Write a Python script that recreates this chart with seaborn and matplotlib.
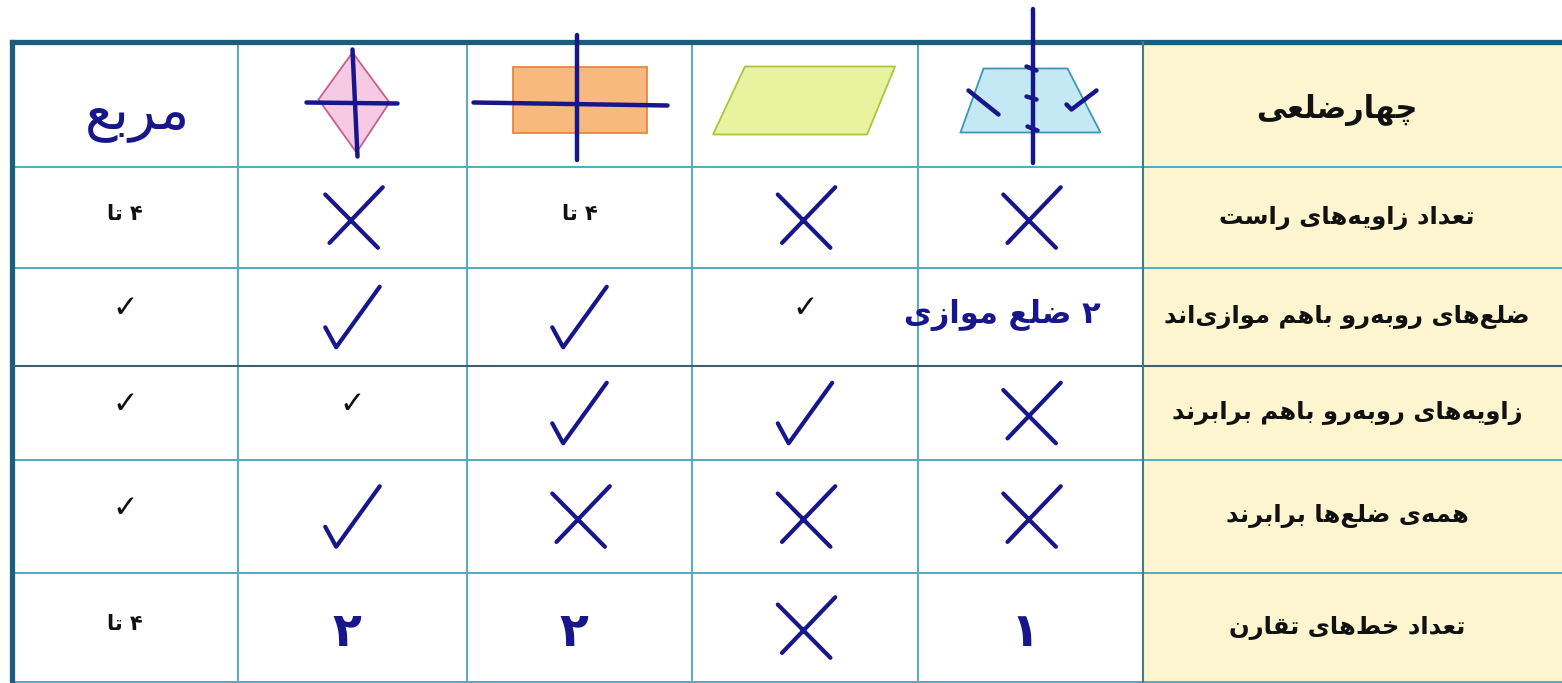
import numpy as np
import pandas as pd
import matplotlib
matplotlib.use("Agg")
import matplotlib.pyplot as plt
from matplotlib.colors import ListedColormap
from matplotlib.path import Path
from matplotlib.patches import Polygon
import seaborn as sns

## Dados da tabela (ordem da direita para a esquerda, como no original)

header_label = "چهارضلعی"
shape_names = ["ذوزنقه", "متوازی‌الاضلاع", "مستطیل", "لوزی", "مربع"]
row_labels = [
    "تعداد زاویه‌های راست",
    "ضلع‌های روبه‌رو باهم موازی‌اند",
    "زاویه‌های روبه‌رو باهم برابرند",
    "همه‌ی ضلع‌ها برابرند",
    "تعداد خط‌های تقارن",
]
# x = no, v = yes
right_angles = ["x", "x", "۴ تا", "x", "۴ تا"]
parallel_sides = ["۲ ضلع موازی", "v", "v", "v", "v"]
equal_angles = ["x", "v", "v", "v", "v"]
equal_sides = ["x", "x", "x", "v", "v"]
symmetry_lines = ["۱", "x", "۲", "۲", "۴ تا"]
# 1 = handwritten answer, 0 = printed in the book
right_angles_hand = [1, 1, 0, 1, 0]
parallel_sides_hand = [1, 0, 1, 1, 0]
equal_angles_hand = [1, 1, 1, 0, 0]
equal_sides_hand = [1, 1, 1, 1, 0]
symmetry_lines_hand = [1, 1, 1, 1, 0]

## Layout (pixels)
col_edges_px = [12, 238, 467, 692, 918, 1143, 1575]
row_edges_px = [42, 167, 268, 366, 460, 573, 682]
W, H = 1562, 683
ink = "#17168a"
grid_color = "#55adc3"
border_color = "#1d5d7c"

## Persian shaping (presentation forms) - matplotlib does no shaping itself
forms = {
    "ا": "\ufe8d\ufe8e", "ب": "\ufe8f\ufe90\ufe91\ufe92", "ت": "\ufe95\ufe96\ufe97\ufe98",
    "خ": "\ufea5\ufea6\ufea7\ufea8", "د": "\ufea9\ufeaa", "ر": "\ufead\ufeae",
    "ز": "\ufeaf\ufeb0", "س": "\ufeb1\ufeb2\ufeb3\ufeb4", "ض": "\ufebd\ufebe\ufebf\ufec0",
    "ط": "\ufec1\ufec2\ufec3\ufec4", "ع": "\ufec9\ufeca\ufecb\ufecc", "ق": "\ufed5\ufed6\ufed7\ufed8",
    "ل": "\ufedd\ufede\ufedf\ufee0", "م": "\ufee1\ufee2\ufee3\ufee4", "ن": "\ufee5\ufee6\ufee7\ufee8",
    "ه": "\ufee9\ufeea\ufeeb\ufeec", "و": "\ufeed\ufeee", "ی": "\ufbfc\ufbfd\ufbfe\ufbff",
    "چ": "\ufb7a\ufb7b\ufb7c\ufb7d",
}


def fa(s):
    out = []
    for i, ch in enumerate(s):
        f = forms.get(ch)
        if f is None:
            out.append(ch)
            continue
        prev = s[i - 1] if i > 0 else ""
        nxt = s[i + 1] if i < len(s) - 1 else ""
        jp = prev in forms and len(forms[prev]) == 4
        jn = len(f) == 4 and nxt in forms
        out.append(f[3] if (jp and jn) else f[1] if jp else f[2] if jn else f[0])
    return "".join(c for c in out if c != "\u200c")[::-1]


sns.set_theme(style="white")
plt.rcParams["font.family"] = ["DejaVu Sans"]

n_rows = 1 + len(row_labels)
n_cols = 1 + len(shape_names)

fig = plt.figure(figsize=(W / 100, H / 100), dpi=100)
ax = fig.add_axes([0, 0, 1, 1])

# fundo das celulas: coluna dos rotulos em creme
bg = np.zeros((n_rows, n_cols))
bg[:, -1] = 1
sns.heatmap(bg, cmap=ListedColormap(["#ffffff", "#fcf5cf"]), cbar=False,
            linewidths=1.4, linecolor=grid_color, xticklabels=False,
            yticklabels=False, ax=ax)

# escalas por partes: indice da celula -> pixel
xi = np.arange(-1, n_cols + 2)
xp = np.r_[col_edges_px[0] - 226, col_edges_px, col_edges_px[-1] + 400]
yi = np.arange(-1, n_rows + 2)
yp = np.r_[row_edges_px[0] - 126, row_edges_px, row_edges_px[-1] + 110]
fx = lambda v: np.interp(v, xi, xp)
ix = lambda p: np.interp(p, xp, xi)
fy = lambda v: np.interp(v, yi, yp)
iy = lambda p: np.interp(p, yp, yi)
ax.set_xscale("function", functions=(fx, ix))
ax.set_yscale("function", functions=(fy, iy))


def at(col, row, dx=0.0, dy=0.0):
    return ix(fx(col + 0.5) + dx), iy(fy(row + 0.5) + dy)


# bordas grossas e linhas escuras
ax.plot([0, n_cols], [0, 0], color=border_color, lw=3.8, zorder=3, solid_capstyle="projecting")
ax.plot([0, 0], [0, n_rows], color=border_color, lw=3.8, zorder=3, solid_capstyle="projecting")
ax.plot([0, n_cols], [3, 3], color="#3d5f6e", lw=1.5, zorder=3)
ax.plot([n_cols - 1, n_cols - 1], [0, n_rows], color="#46788a", lw=1.5, zorder=3)

## Cabecalho: figuras
shape_outlines = {
    "ذوزنقه": ([(-47, -36), (37, -36), (70, 28), (-70, 28)], "#c4e8f4", "#3f97b3"),
    "متوازی‌الاضلاع": ([(-60, -38), (90, -38), (62, 30), (-92, 30)], "#e8f29f", "#a9c63c"),
    "مستطیل": ([(-67, -38), (67, -38), (67, 28), (-67, 28)], "#f8b97f", "#e08944"),
    "لوزی": ([(0, -52), (37, -2), (4, 48), (-34, -5)], "#f6cae2", "#c8608e"),
}
shape_strokes = {
    "ذوزنقه": [[(2, -96), (2, 58)],
               [(-4, -38), (6, -34)], [(-4, -8), (6, -5)], [(-3, 22), (7, 26)],
               [(-62, -14), (-32, 10)],
               [(36, 0), (41, 5), (66, -14)]],
    "مستطیل": [[(-3, -70), (-3, 55)], [(-106, -2), (88, 1)]],
    "لوزی": [[(0, -55), (5, 52)], [(-46, -2), (45, -1)]],
}
for j, name in enumerate(shape_names):
    col = n_cols - 2 - j
    if name in shape_outlines:
        verts, face, edge = shape_outlines[name]
        pts = [at(col, 0, dx, dy) for dx, dy in verts]
        ax.add_patch(Polygon(pts, closed=True, facecolor=face, edgecolor=edge, lw=1.3, zorder=2))
        for stroke in shape_strokes.get(name, []):
            xs, ys = zip(*[at(col, 0, dx, dy) for dx, dy in stroke])
            ax.plot(xs, ys, color=ink, lw=3.2, zorder=5, solid_capstyle="round")
    else:
        x, y = at(col, 0, 12, 10)
        ax.text(x, y, fa(name), color=ink, fontsize=40, ha="center", va="center", zorder=5)

# rotulos
x, y = at(n_cols - 1, 0, -22, 6)
ax.text(x, y, fa(header_label), fontsize=22, fontweight="bold", ha="center", va="center", color="#111111")
for r, lab in enumerate(row_labels, start=1):
    x, y = at(n_cols - 1, r, -12)
    ax.text(x, y, fa(lab), fontsize=17.5, fontweight="bold", ha="center", va="center", color="#111111")

## Celulas
values = [right_angles, parallel_sides, equal_angles, equal_sides, symmetry_lines]
hands = [right_angles_hand, parallel_sides_hand, equal_angles_hand, equal_sides_hand, symmetry_lines_hand]
records = []
for r, (vals, hs) in enumerate(zip(values, hands), start=1):
    for j, (v, h) in enumerate(zip(vals, hs)):
        records.append({"row": r, "col": n_cols - 2 - j, "value": v, "hand": h})
cells = pd.DataFrame(records)
cells["x"] = cells["col"] + 0.5
cells["y"] = cells["row"] + 0.5

x_mark = Path([(-0.45, 0.38), (0.42, -0.5), (-0.38, -0.42), (0.5, 0.5)],
              [Path.MOVETO, Path.LINETO, Path.MOVETO, Path.LINETO])
check_mark = Path([(-0.45, -0.17), (-0.27, -0.5), (0.45, 0.5)],
                  [Path.MOVETO, Path.LINETO, Path.LINETO])

marks = cells[(cells["hand"] == 1) & cells["value"].isin(["x", "v"])]
sns.scatterplot(data=marks, x="x", y="y", style="value",
                markers={"x": x_mark, "v": check_mark}, s=1900,
                color=ink, facecolor="none", edgecolor=ink, linewidth=3,
                legend=False, zorder=6, ax=ax)
ax.collections[-1].set_capstyle("round")
ax.collections[-1].set_joinstyle("round")

for _, c in cells.iterrows():
    if c["hand"] == 1 and c["value"] in ("x", "v"):
        continue
    if c["value"] == "v":
        x, y = at(c["col"], c["row"], 0, -8)
        ax.text(x, y, "✓", fontsize=22, ha="center", va="center", color="#111111")
    elif c["hand"] == 1:
        if len(c["value"]) > 2:
            x, y = at(c["col"], c["row"], -28, -2)
            ax.text(x, y, fa(c["value"]), fontsize=22, fontweight="bold",
                    ha="center", va="center", color=ink, zorder=6)
        else:
            x, y = at(c["col"], c["row"], -6, 6)
            ax.text(x, y, fa(c["value"]), fontsize=34, fontweight="bold",
                    ha="center", va="center", color=ink, zorder=6)
    else:
        x, y = at(c["col"], c["row"], 0, -4)
        ax.text(x, y, fa(c["value"]), fontsize=15, fontweight="bold",
                ha="center", va="center", color="#111111")

ax.set_xlim(ix(0), ix(W))
ax.set_ylim(iy(H), iy(0))
ax.set_axis_off()
fig.savefig("out.png", dpi=100, facecolor="white")
